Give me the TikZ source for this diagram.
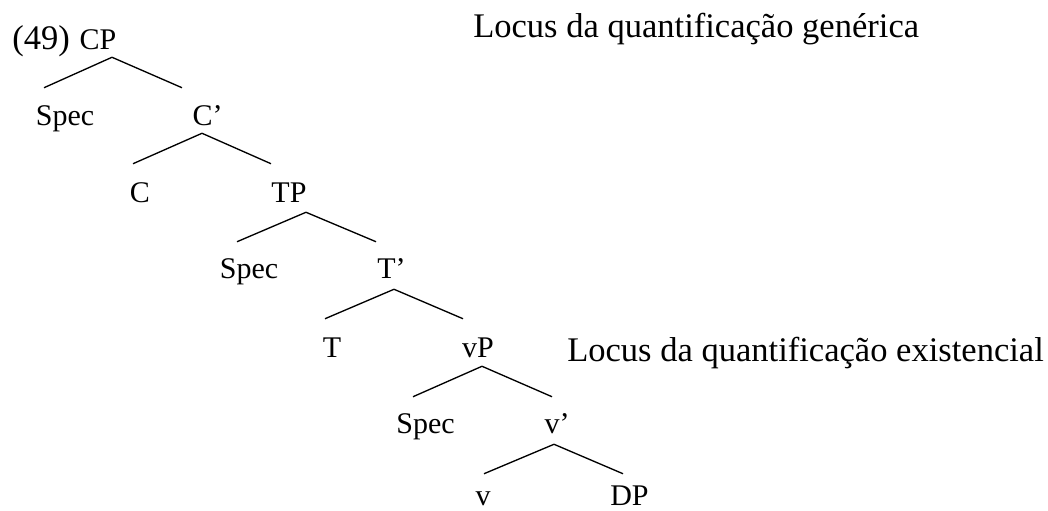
\documentclass[tikz,border=0pt]{standalone}
\usepackage{fontspec}
\setmainfont{Liberation Serif}
\usetikzlibrary{calc}
\tikzset{
  lbl/.style={inner sep=0pt, anchor=base, text height=15.75pt, text depth=4.5pt,
    font=\fontsize{22.5}{27}\selectfont},
  leaf/.style={lbl, text depth=0pt},
  big/.style={inner sep=0pt, anchor=base west, font=\fontsize{25.9}{30}\selectfont},
  branch/.style={line width=1pt, line join=miter}
}
\begin{document}
\begin{tikzpicture}[x=0.75pt,y=-0.75pt]
\useasboundingbox (0,0) rectangle (1048,510);
% labels
\node[big] (num) at (12,50) {(49)};
\node[lbl] (CP) at (98,50) {CP};
\node[lbl] (Spec1) at (65,125) {Spec};
\node[lbl] (Cbar) at (207.5,125) {C’};
\node[lbl] (C) at (140,202) {C};
\node[lbl] (TP) at (289,202) {TP};
\node[lbl] (Spec2) at (249,278) {Spec};
\node[lbl] (Tbar) at (391.5,278) {T’};
\node[lbl] (T) at (332,357) {T};
\node[lbl] (vP) at (478,357) {vP};
\node[lbl] (Spec3) at (425.5,433) {Spec};
\node[lbl] (vbar) at (557,433) {v’};
\node[leaf] (v) at (483,505) {v};
\node[leaf] (DP) at (629.5,505) {DP};
\node[big] (gen) at (473,38) {Locus da quantificação genérica};
\node[big] (exi) at (567,361) {Locus da quantificação existencial};
% branches
\draw[branch] ($(Spec1.north)+(-21,-16)$) -- ($(CP.south)+(14,1)$) -- ($(Cbar.north)+(-25.5,-16)$);
\draw[branch] ($(C.north)+(-7,-17)$) -- ($(Cbar.south)+(-5.5,2)$) -- ($(TP.north)+(-18,-17)$);
\draw[branch] ($(Spec2.north)+(-12,-15)$) -- ($(TP.south)+(17,4)$) -- ($(Tbar.north)+(-15.5,-15)$);
\draw[branch] ($(T.north)+(-7,-17)$) -- ($(Tbar.south)+(2.5,5)$) -- ($(vP.north)+(-15,-17)$);
\draw[branch] ($(Spec3.north)+(-12.5,-15)$) -- ($(vP.south)+(4,3)$) -- ($(vbar.north)+(-5,-15)$);
\draw[branch] ($(v.north)+(1,-10)$) -- ($(vbar.south)+(-3,5)$) -- ($(DP.north)+(-6.5,-10)$);
\end{tikzpicture}
\end{document}
